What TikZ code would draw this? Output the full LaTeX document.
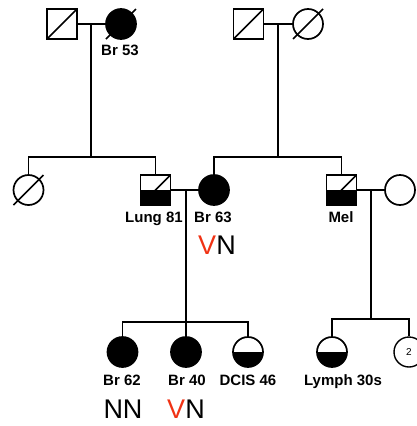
\documentclass[tikz,border=0pt]{standalone}
\usepackage{fontspec}
\setmainfont{Liberation Sans}
\newfontfamily\vnfont{Liberation Sans}
\usetikzlibrary{calc}
\definecolor{vred}{RGB}{240,50,20}
\begin{document}
\begin{tikzpicture}[x=1pt,y=-1pt, line width=1.7pt,
  male/.style={draw, rectangle, minimum size=30pt, inner sep=0pt, fill=white},
  female/.style={draw, circle, minimum size=30pt, inner sep=0pt, fill=white},
  aff/.style={fill=black},
  half/.style={path picture={\fill[black] (path picture bounding box.west) rectangle (path picture bounding box.south east);}},
  halfsl/.style={path picture={\fill[black] (path picture bounding box.west) rectangle (path picture bounding box.south east); \draw (path picture bounding box.south west) -- (path picture bounding box.north east);}},
  sl/.style={path picture={\draw (path picture bounding box.south west) -- (path picture bounding box.north east);}},
  lbl/.style={font=\bfseries\fontsize{15}{15}\selectfont, anchor=base, inner sep=0pt},
  geno/.style={font=\vnfont\fontsize{27}{27}\selectfont, anchor=base, inner sep=0pt}
]
\useasboundingbox (0,0) rectangle (417,426);

% generation I
\node[male, sl] (m1) at (62,24) {};
\node[female, aff] (f1) at (121,24) {};
\node[male, sl] (m2) at (248.5,24) {};
\node[female] (f2) at (308,24) {};
\draw ($(f1.center)+(-15,15)$) -- ($(f1.center)+(15,-15)$);
\draw ($(f2.center)+(-15,15)$) -- ($(f2.center)+(15,-15)$);
\node[lbl] (lf1) at (120,55) {Br 53};

% generation II
\node[female] (d1) at (28.5,190) {};
\draw ($(d1.center)+(-15,15)$) -- ($(d1.center)+(15,-15)$);
\node[male, halfsl] (lung) at (155.5,190) {};
\node[female, aff] (br63) at (214,190) {};
\node[male, halfsl] (mel) at (341.5,190) {};
\node[female] (w) at (400,190) {};
\node[lbl] (llung) at (154,222) {Lung 81};
\node[lbl] (lbr63) at (213,222) {Br 63};
\node[lbl] (lmel) at (341,222) {Mel};
\node[geno] (g63) at (217,254) {\textcolor{vred}{V}N};

% generation III
\node[female, aff] (c1) at (122.5,352) {};
\node[female, aff] (c2) at (186,352) {};
\node[female, half] (c3) at (248,352) {};
\node[female, half] (c4) at (332,352) {};
\node[female, line width=1.4pt, font=\fontsize{10}{10}\selectfont] (c5) at (409,352) {2};
\node[lbl] (lc1) at (122,385) {Br 62};
\node[lbl] (lc2) at (187,385) {Br 40};
\node[lbl] (lc3) at (248,385) {DCIS 46};
\node[lbl] (lc4) at (343,385) {Lymph 30s};
\node[geno] (gc1) at (123,418) {NN};
\node[geno] (gc2) at (186,418) {\textcolor{vred}{V}N};

% connectors generation I
\coordinate (cp1) at (91,24);
\coordinate (sb1) at (91,157);
\coordinate (cp2) at (278,24);
\coordinate (sb2) at (278,157);
\draw (m1.east) -- (f1.west);
\draw (m2.east) -- (f2.west);
\draw (cp1) -- (sb1);
\draw (cp2) -- (sb2);
\draw (d1.north) -- (d1.north |- sb1) -- (lung.north |- sb1) -- (lung.north);
\draw (br63.north) -- (br63.north |- sb2) -- (mel.north |- sb2) -- (mel.north);

% connectors generation II
\coordinate (cp3) at (186,190);
\coordinate (sb3) at (186,322);
\coordinate (cp4) at (371,190);
\coordinate (sb4) at (371,319);
\draw (lung.east) -- (br63.west);
\draw (mel.east) -- (w.west);
\draw (cp3) -- (sb3);
\draw (cp4) -- (sb4);
\draw (c1.north) -- (c1.north |- sb3) -- (c3.north |- sb3) -- (c3.north);
\draw (sb3) -- (c2.north);
\draw (c4.north) -- (c4.north |- sb4) -- (c5.north |- sb4) -- (c5.north);
\end{tikzpicture}
\end{document}
